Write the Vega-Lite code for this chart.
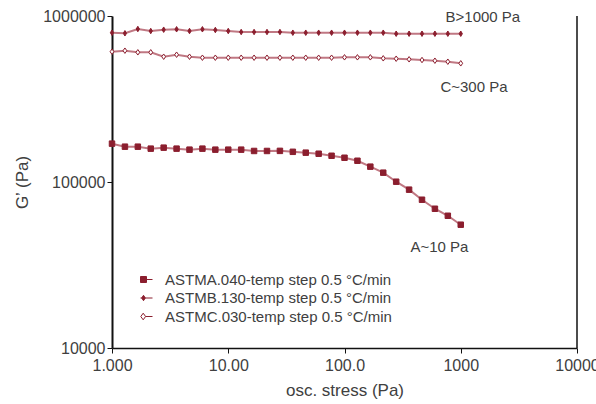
{
  "$schema": "https://vega.github.io/schema/vega-lite/v6.json",
  "width": 465,
  "height": 332,
  "autosize": {"type": "none"},
  "padding": {"left": 112, "top": 16, "right": 19, "bottom": 56},
  "background": "white",
  "config": {
    "font": "Liberation Sans",
    "view": {"stroke": null},
    "axis": {
      "grid": false,
      "labelFlush": false,
      "labelOverlap": false,
      "domainColor": "#111111",
      "tickColor": "#111111",
      "tickSize": 5,
      "labelColor": "#404040",
      "labelFontSize": 16,
      "titleColor": "#404040",
      "titleFontSize": 17,
      "titleFontWeight": "normal"
    },
    "legend": {"padding": 0}
  },
  "datasets": {
    "curves": [
      {"stress": 1.000, "G": 170200, "sample": "ASTMA.040-temp step 0.5 °C/min"},
      {"stress": 1.292, "G": 163200, "sample": "ASTMA.040-temp step 0.5 °C/min"},
      {"stress": 1.668, "G": 163200, "sample": "ASTMA.040-temp step 0.5 °C/min"},
      {"stress": 2.154, "G": 158800, "sample": "ASTMA.040-temp step 0.5 °C/min"},
      {"stress": 2.783, "G": 161000, "sample": "ASTMA.040-temp step 0.5 °C/min"},
      {"stress": 3.594, "G": 158800, "sample": "ASTMA.040-temp step 0.5 °C/min"},
      {"stress": 4.642, "G": 156600, "sample": "ASTMA.040-temp step 0.5 °C/min"},
      {"stress": 5.995, "G": 158800, "sample": "ASTMA.040-temp step 0.5 °C/min"},
      {"stress": 7.743, "G": 156600, "sample": "ASTMA.040-temp step 0.5 °C/min"},
      {"stress": 10.00, "G": 156600, "sample": "ASTMA.040-temp step 0.5 °C/min"},
      {"stress": 12.92, "G": 156600, "sample": "ASTMA.040-temp step 0.5 °C/min"},
      {"stress": 16.68, "G": 153800, "sample": "ASTMA.040-temp step 0.5 °C/min"},
      {"stress": 21.54, "G": 153800, "sample": "ASTMA.040-temp step 0.5 °C/min"},
      {"stress": 27.83, "G": 154000, "sample": "ASTMA.040-temp step 0.5 °C/min"},
      {"stress": 35.94, "G": 152000, "sample": "ASTMA.040-temp step 0.5 °C/min"},
      {"stress": 46.42, "G": 150200, "sample": "ASTMA.040-temp step 0.5 °C/min"},
      {"stress": 59.95, "G": 148000, "sample": "ASTMA.040-temp step 0.5 °C/min"},
      {"stress": 77.43, "G": 143900, "sample": "ASTMA.040-temp step 0.5 °C/min"},
      {"stress": 100.0, "G": 140000, "sample": "ASTMA.040-temp step 0.5 °C/min"},
      {"stress": 129.2, "G": 134300, "sample": "ASTMA.040-temp step 0.5 °C/min"},
      {"stress": 166.8, "G": 123700, "sample": "ASTMA.040-temp step 0.5 °C/min"},
      {"stress": 215.4, "G": 113800, "sample": "ASTMA.040-temp step 0.5 °C/min"},
      {"stress": 278.3, "G": 100400, "sample": "ASTMA.040-temp step 0.5 °C/min"},
      {"stress": 359.4, "G": 89900, "sample": "ASTMA.040-temp step 0.5 °C/min"},
      {"stress": 464.2, "G": 78200, "sample": "ASTMA.040-temp step 0.5 °C/min"},
      {"stress": 599.5, "G": 69000, "sample": "ASTMA.040-temp step 0.5 °C/min"},
      {"stress": 774.3, "G": 62600, "sample": "ASTMA.040-temp step 0.5 °C/min"},
      {"stress": 1000, "G": 55300, "sample": "ASTMA.040-temp step 0.5 °C/min"},

      {"stress": 1.000, "G": 793000, "sample": "ASTMB.130-temp step 0.5 °C/min"},
      {"stress": 1.292, "G": 786800, "sample": "ASTMB.130-temp step 0.5 °C/min"},
      {"stress": 1.668, "G": 835000, "sample": "ASTMB.130-temp step 0.5 °C/min"},
      {"stress": 2.154, "G": 812000, "sample": "ASTMB.130-temp step 0.5 °C/min"},
      {"stress": 2.783, "G": 827000, "sample": "ASTMB.130-temp step 0.5 °C/min"},
      {"stress": 3.594, "G": 831700, "sample": "ASTMB.130-temp step 0.5 °C/min"},
      {"stress": 4.642, "G": 812000, "sample": "ASTMB.130-temp step 0.5 °C/min"},
      {"stress": 5.995, "G": 831700, "sample": "ASTMB.130-temp step 0.5 °C/min"},
      {"stress": 7.743, "G": 823500, "sample": "ASTMB.130-temp step 0.5 °C/min"},
      {"stress": 10.00, "G": 812000, "sample": "ASTMB.130-temp step 0.5 °C/min"},
      {"stress": 12.92, "G": 801000, "sample": "ASTMB.130-temp step 0.5 °C/min"},
      {"stress": 16.68, "G": 801000, "sample": "ASTMB.130-temp step 0.5 °C/min"},
      {"stress": 21.54, "G": 801000, "sample": "ASTMB.130-temp step 0.5 °C/min"},
      {"stress": 27.83, "G": 801000, "sample": "ASTMB.130-temp step 0.5 °C/min"},
      {"stress": 35.94, "G": 793000, "sample": "ASTMB.130-temp step 0.5 °C/min"},
      {"stress": 46.42, "G": 793000, "sample": "ASTMB.130-temp step 0.5 °C/min"},
      {"stress": 59.95, "G": 793000, "sample": "ASTMB.130-temp step 0.5 °C/min"},
      {"stress": 77.43, "G": 793000, "sample": "ASTMB.130-temp step 0.5 °C/min"},
      {"stress": 100.0, "G": 793000, "sample": "ASTMB.130-temp step 0.5 °C/min"},
      {"stress": 129.2, "G": 793000, "sample": "ASTMB.130-temp step 0.5 °C/min"},
      {"stress": 166.8, "G": 793000, "sample": "ASTMB.130-temp step 0.5 °C/min"},
      {"stress": 215.4, "G": 793000, "sample": "ASTMB.130-temp step 0.5 °C/min"},
      {"stress": 278.3, "G": 782000, "sample": "ASTMB.130-temp step 0.5 °C/min"},
      {"stress": 359.4, "G": 782000, "sample": "ASTMB.130-temp step 0.5 °C/min"},
      {"stress": 464.2, "G": 782000, "sample": "ASTMB.130-temp step 0.5 °C/min"},
      {"stress": 599.5, "G": 782000, "sample": "ASTMB.130-temp step 0.5 °C/min"},
      {"stress": 774.3, "G": 782000, "sample": "ASTMB.130-temp step 0.5 °C/min"},
      {"stress": 1000, "G": 782000, "sample": "ASTMB.130-temp step 0.5 °C/min"},

      {"stress": 1.000, "G": 609500, "sample": "ASTMC.030-temp step 0.5 °C/min"},
      {"stress": 1.292, "G": 618000, "sample": "ASTMC.030-temp step 0.5 °C/min"},
      {"stress": 1.668, "G": 604300, "sample": "ASTMC.030-temp step 0.5 °C/min"},
      {"stress": 2.154, "G": 604300, "sample": "ASTMC.030-temp step 0.5 °C/min"},
      {"stress": 2.783, "G": 568500, "sample": "ASTMC.030-temp step 0.5 °C/min"},
      {"stress": 3.594, "G": 584500, "sample": "ASTMC.030-temp step 0.5 °C/min"},
      {"stress": 4.642, "G": 568500, "sample": "ASTMC.030-temp step 0.5 °C/min"},
      {"stress": 5.995, "G": 560700, "sample": "ASTMC.030-temp step 0.5 °C/min"},
      {"stress": 7.743, "G": 560700, "sample": "ASTMC.030-temp step 0.5 °C/min"},
      {"stress": 10.00, "G": 560700, "sample": "ASTMC.030-temp step 0.5 °C/min"},
      {"stress": 12.92, "G": 560700, "sample": "ASTMC.030-temp step 0.5 °C/min"},
      {"stress": 16.68, "G": 560700, "sample": "ASTMC.030-temp step 0.5 °C/min"},
      {"stress": 21.54, "G": 560700, "sample": "ASTMC.030-temp step 0.5 °C/min"},
      {"stress": 27.83, "G": 560700, "sample": "ASTMC.030-temp step 0.5 °C/min"},
      {"stress": 35.94, "G": 560700, "sample": "ASTMC.030-temp step 0.5 °C/min"},
      {"stress": 46.42, "G": 560700, "sample": "ASTMC.030-temp step 0.5 °C/min"},
      {"stress": 59.95, "G": 560700, "sample": "ASTMC.030-temp step 0.5 °C/min"},
      {"stress": 77.43, "G": 560700, "sample": "ASTMC.030-temp step 0.5 °C/min"},
      {"stress": 100.0, "G": 563800, "sample": "ASTMC.030-temp step 0.5 °C/min"},
      {"stress": 129.2, "G": 563800, "sample": "ASTMC.030-temp step 0.5 °C/min"},
      {"stress": 166.8, "G": 563800, "sample": "ASTMC.030-temp step 0.5 °C/min"},
      {"stress": 215.4, "G": 556000, "sample": "ASTMC.030-temp step 0.5 °C/min"},
      {"stress": 278.3, "G": 553000, "sample": "ASTMC.030-temp step 0.5 °C/min"},
      {"stress": 359.4, "G": 548400, "sample": "ASTMC.030-temp step 0.5 °C/min"},
      {"stress": 464.2, "G": 543000, "sample": "ASTMC.030-temp step 0.5 °C/min"},
      {"stress": 599.5, "G": 537800, "sample": "ASTMC.030-temp step 0.5 °C/min"},
      {"stress": 774.3, "G": 530400, "sample": "ASTMC.030-temp step 0.5 °C/min"},
      {"stress": 1000, "G": 518800, "sample": "ASTMC.030-temp step 0.5 °C/min"}
    ],
    "notes": [
      {"stress": 1550, "G": 990000, "note": "B>1000 Pa"},
      {"stress": 1300, "G": 373000, "note": "C~300 Pa"},
      {"stress": 656, "G": 40700, "note": "A~10 Pa"}
    ],
    "frame": [
      {"stress": 10000}
    ]
  },
  "resolve": {
    "scale": {"shape": "independent", "fill": "independent"}
  },
  "layer": [
    {
      "data": {"name": "curves"},
      "mark": {"type": "line", "stroke": "#b5606d", "strokeWidth": 2, "strokeOpacity": 0.85},
      "encoding": {
        "x": {
          "field": "stress", "type": "quantitative",
          "scale": {"type": "log", "domain": [1, 10000]},
          "axis": {
            "values": [1, 10, 100, 1000, 10000], "format": ".4r",
            "domainWidth": 1.5, "labelPadding": 4,
            "title": "osc. stress (Pa)", "titlePadding": 9
          }
        },
        "y": {
          "field": "G", "type": "quantitative",
          "scale": {"type": "log", "domain": [10000, 1000000]},
          "axis": {
            "values": [10000, 100000, 1000000], "format": "d",
            "domainWidth": 2, "labelPadding": 2,
            "title": "G’ (Pa)", "titlePadding": 11
          }
        },
        "detail": {"field": "sample"}
      }
    },
    {
      "data": {"name": "frame"},
      "mark": {"type": "rule", "color": "#111111", "strokeWidth": 1.5},
      "encoding": {"x": {"field": "stress", "type": "quantitative"}}
    },
    {
      "data": {"name": "curves"},
      "mark": {"type": "point", "filled": true, "stroke": "#8b1e2e", "strokeWidth": 1, "opacity": 1},
      "encoding": {
        "x": {"field": "stress", "type": "quantitative"},
        "y": {"field": "G", "type": "quantitative"},
        "shape": {
          "field": "sample", "type": "nominal", "legend": null,
          "scale": {"range": ["square", "M-0.6,0L0,-1L0.6,0L0,1Z", "M-0.7,0L0,-1L0.7,0L0,1Z"]}
        },
        "fill": {
          "field": "sample", "type": "nominal", "legend": null,
          "scale": {"range": ["#8b1e2e", "#8b1e2e", "#ffffff"]}
        },
        "size": {"value": 30}
      }
    },
    {
      "data": {"name": "curves"},
      "transform": [{"filter": "datum.stress < 0"}],
      "mark": {"type": "point", "filled": true, "stroke": "#8b1e2e", "strokeWidth": 1, "opacity": 1},
      "encoding": {
        "x": {"field": "stress", "type": "quantitative"},
        "y": {"field": "G", "type": "quantitative"},
        "shape": {
          "field": "sample", "type": "nominal",
          "scale": {
            "domain": ["ASTMA.040-temp step 0.5 °C/min", "ASTMB.130-temp step 0.5 °C/min", "ASTMC.030-temp step 0.5 °C/min"],
            "range": [
              "M-1,-0.5H0V0.5H-1Z M0,0H1",
              "M-0.5,-0.45L-0.2,0L-0.5,0.45L-0.8,0Z M-1,0H1",
              "M-0.55,-0.55L-0.15,0L-0.55,0.55L-0.95,0Z M-0.15,0H1"
            ]
          },
          "legend": {
            "title": null, "orient": "none", "legendX": 27, "legendY": 256,
            "symbolSize": 144, "symbolStrokeWidth": 1, "labelOffset": 11,
            "labelFontSize": 15, "labelColor": "#404040", "labelLimit": 0, "rowPadding": 2.5
          }
        },
        "fill": {
          "field": "sample", "type": "nominal",
          "scale": {
            "domain": ["ASTMA.040-temp step 0.5 °C/min", "ASTMB.130-temp step 0.5 °C/min", "ASTMC.030-temp step 0.5 °C/min"],
            "range": ["#8b1e2e", "#8b1e2e", "#ffffff"]
          },
          "legend": {
            "title": null, "orient": "none", "legendX": 27, "legendY": 256,
            "symbolSize": 144, "symbolStrokeWidth": 1, "labelOffset": 11,
            "labelFontSize": 15, "labelColor": "#404040", "labelLimit": 0, "rowPadding": 2.5
          }
        }
      }
    },
    {
      "data": {"name": "notes"},
      "mark": {"type": "text", "fontSize": 15, "color": "#404040", "align": "center", "baseline": "middle"},
      "encoding": {
        "x": {"field": "stress", "type": "quantitative"},
        "y": {"field": "G", "type": "quantitative"},
        "text": {"field": "note"}
      }
    }
  ]
}
